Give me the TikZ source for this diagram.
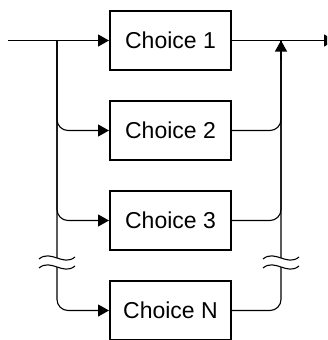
\documentclass[tikz,border=0pt]{standalone}
\usepackage{fontspec}
\setmainfont{Liberation Sans}
\usetikzlibrary{positioning,arrows.meta}
\tikzset{
    choice/.style = {
        draw,
        line width=2pt,
        minimum width=121pt,
        minimum height=59pt,
        font=\fontsize{23}{26}\selectfont,
        },
    flow/.style = {
        line width=1.1pt,
        -{Triangle[length=11pt,width=12pt]},
        },
    plain/.style = {
        line width=1.1pt,
        },
}

\begin{document}
\begin{tikzpicture}[x=1pt,y=-1pt,node distance=29pt]
            \useasboundingbox (0,0) rectangle (327,340);
            \clip (0,0) rectangle (327,340);

            \node[choice] (c1) at (170.5,40.5) {Choice 1};
            \node[choice, below=of c1] (c2) {Choice 2};
            \node[choice, below=of c2] (c3) {Choice 3};
            \node[choice, below=of c3] (cN) {Choice N};

            \coordinate (in) at (8,40.5);
            \coordinate (split) at (57,40.5);
            \coordinate (join) at (281,40.5);
            \coordinate (out) at (335,40.5);

            % main line
            \draw[flow] (in) -- (c1.west);
            \draw[flow] (c1.east) -- (out);

            % branches in
            \draw[flow, rounded corners=11pt] (split) |- (c2.west);
            \draw[flow, rounded corners=11pt] (split) |- (c3.west);
            \draw[flow, rounded corners=11pt] (split) |- (cN.west);

            % branches out
            \draw[plain, rounded corners=11pt] (c2.east) -| (join);
            \draw[plain, rounded corners=11pt] (c3.east) -| (join);
            \draw[plain, rounded corners=11pt] (cN.east) -| (join);
            \draw[flow] (281,60) -- (join);

            % breaks
            \foreach \x in {57,281} {
                \fill[white] (\x-18,259) .. controls (\x-6,249) and (\x+6,267) .. (\x+18,257)
                    -- (\x+18,266) .. controls (\x+6,276) and (\x-6,258) .. (\x-18,268) -- cycle;
                \draw[plain] (\x-18,259) .. controls (\x-6,249) and (\x+6,267) .. (\x+18,257);
                \draw[plain] (\x-18,268) .. controls (\x-6,258) and (\x+6,276) .. (\x+18,266);
            }
        \end{tikzpicture}
\end{document}
